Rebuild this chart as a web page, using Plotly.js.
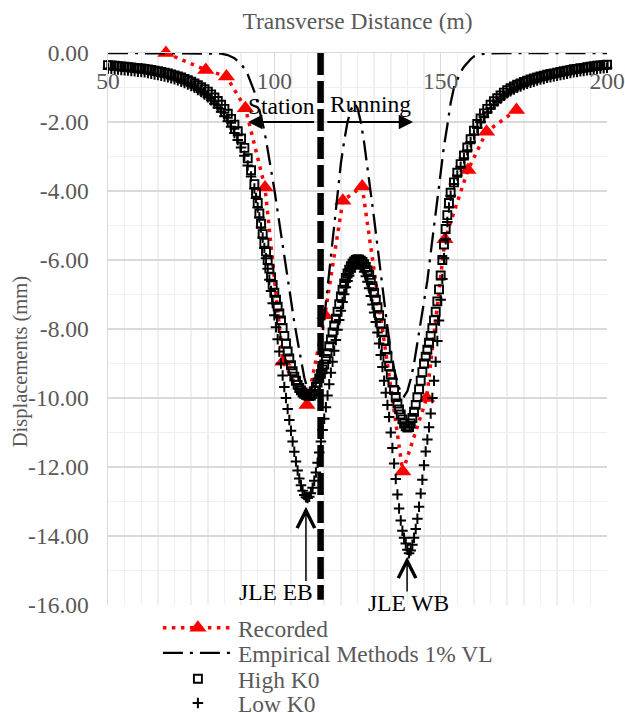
<!DOCTYPE html>
<html>
<head>
<meta charset="utf-8">
<script src="https://cdn.plot.ly/plotly-3.0.1.min.js"></script>
<style>
html,body{margin:0;padding:0;background:#fff;}
#chart{width:625px;height:713px;}
#chart svg text{font-family:'Liberation Serif' !important;}
</style>
</head>
<body>
<div id="chart"></div>
<script>
// ---------- DATA ----------
const xRecorded = [67.4, 79.4, 85.6, 91.3, 97.2, 102.6, 109.8, 115.2, 120.6, 126.4, 138.6, 145.8, 151.3, 158.2, 163.8, 172.8];
const yRecorded = [0.0, -0.49, -0.68, -1.6, -3.9, -8.95, -10.2, -7.6, -4.28, -3.87, -12.13, -10.0, -5.4, -3.39, -2.28, -1.65];

const xEmpirical = [50, 60, 70, 80, 84, 86, 88,
  90, 91, 92, 93, 94, 95, 96, 97, 98, 99,
  100, 101, 102, 103, 104, 105, 106, 107, 108, 109,
  110, 111, 112, 113, 114, 115, 116, 117, 118, 119,
  120, 121, 122, 123, 124, 125, 126, 127, 128, 129,
  130, 131, 132, 133, 134, 135, 136, 137, 138, 139,
  140, 141, 142, 143, 144, 145, 146, 147, 148, 149,
  150, 151, 152, 153, 154, 155, 156, 157, 158, 159,
  160, 162, 164, 166, 170, 180, 190, 200];
const yEmpirical = [0, 0, 0, 0, -0.02, -0.06, -0.15,
  -0.32, -0.45, -0.62, -0.85, -1.12, -1.45, -1.82, -2.25, -2.8, -3.35,
  -3.95, -4.6, -5.25, -5.9, -6.55, -7.2, -7.8, -8.35, -8.9, -9.4,
  -9.75, -9.95, -9.8, -9.35, -8.6, -7.7, -6.75, -5.8, -4.85, -4.0,
  -3.2, -2.55, -2.0, -1.65, -1.45, -1.6, -2.0, -2.6, -3.3, -4.0,
  -4.8, -5.6, -6.4, -7.2, -7.95, -8.6, -9.15, -9.55, -9.85, -9.95,
  -9.8, -9.45, -9.0, -8.4, -7.8, -7.2, -6.6, -5.8, -5.0, -4.15,
  -3.35, -2.7, -2.1, -1.45, -1.0, -0.75, -0.55, -0.4, -0.28, -0.18,
  -0.1, -0.04, -0.01, 0, 0, 0, 0, 0];

const xModel = [
  50, 51, 52, 53, 54, 55, 56, 57, 58, 59,
  60, 61, 62, 63, 64, 65, 66, 67, 68, 69,
  70, 71, 72, 73, 74, 75, 76, 77, 78, 79,
  80, 81, 82, 83, 84, 85, 86, 87, 88, 89,
  90, 91, 92, 93, 94,
  94.5, 95, 95.5, 96, 96.5, 97, 97.5, 98, 98.5, 99,
  99.5, 100, 100.5, 101, 101.5, 102, 102.5, 103, 103.5, 104,
  104.5, 105, 105.5, 106, 106.5, 107, 107.5, 108, 108.5, 109,
  109.5, 110, 110.5, 111, 111.5, 112, 112.5, 113, 113.5, 114,
  114.5, 115, 115.5, 116, 116.5, 117, 117.5, 118, 118.5, 119,
  119.5, 120, 120.5, 121, 121.5, 122, 122.5, 123, 123.5, 124,
  124.5, 125, 125.5, 126, 126.5, 127, 127.5, 128, 128.5, 129,
  129.5, 130, 130.5, 131, 131.5, 132, 132.5, 133, 133.5, 134,
  134.5, 135, 135.5, 136, 136.5, 137, 137.5, 138, 138.5, 139,
  139.5, 140, 140.5, 141, 141.5, 142, 142.5, 143, 143.5, 144,
  144.5, 145, 145.5, 146, 146.5, 147, 147.5, 148, 148.5, 149,
  149.5, 150, 150.5, 151, 151.5, 152, 152.5, 153,
  154, 155, 156, 157, 158, 159, 160, 161, 162, 163,
  164, 165, 166, 167, 168, 169, 170, 171, 172, 173,
  174, 175, 176, 177, 178, 179, 180, 181, 182, 183,
  184, 185, 186, 187, 188, 189, 190, 191, 192, 193,
  194, 195, 196, 197, 198, 199, 200];

const yHighK0 = [
  -0.35, -0.36, -0.37, -0.38, -0.39, -0.40, -0.41, -0.42, -0.43, -0.44,
  -0.45, -0.46, -0.48, -0.49, -0.51, -0.53, -0.55, -0.57, -0.59, -0.62,
  -0.65, -0.68, -0.71, -0.75, -0.79, -0.83, -0.88, -0.93, -0.99, -1.05,
  -1.12, -1.20, -1.29, -1.39, -1.50, -1.62, -1.76, -1.91, -2.08, -2.27,
  -2.48, -2.75, -3.05, -3.40, -3.80,
  -4.05, -4.35, -4.65, -4.95, -5.25, -5.5, -5.75, -6.0, -6.25, -6.5,
  -6.72, -6.95, -7.15, -7.35, -7.55, -7.75, -7.97, -8.2, -8.42, -8.65,
  -8.85, -9.05, -9.22, -9.38, -9.5, -9.62, -9.71, -9.78, -9.84, -9.88,
  -9.91, -9.93, -9.94, -9.93, -9.88, -9.8, -9.68, -9.55, -9.43, -9.3,
  -9.17, -9.03, -8.87, -8.7, -8.5, -8.3, -8.1, -7.9, -7.7, -7.5,
  -7.28, -7.06, -6.86, -6.68, -6.52, -6.39, -6.28, -6.18, -6.1, -6.04,
  -6.0, -5.98, -5.99, -6.02, -6.06, -6.12, -6.2, -6.3, -6.43, -6.58,
  -6.76, -6.95, -7.15, -7.37, -7.6, -7.84, -8.08, -8.33, -8.58, -8.83,
  -9.08, -9.32, -9.55, -9.77, -9.97, -10.16, -10.33, -10.48, -10.62, -10.74,
  -10.82, -10.86, -10.84, -10.74, -10.58, -10.4, -10.2, -9.98, -9.75, -9.5,
  -9.25, -9.0, -8.8, -8.6, -8.4, -8.2, -7.98, -7.75, -7.5, -7.2,
  -6.85, -6.45, -6.0, -5.55, -5.1, -4.7, -4.35, -4.05,
  -3.75, -3.47, -3.22, -2.97, -2.74, -2.5, -2.25, -2.06, -1.9, -1.75,
  -1.62, -1.5, -1.4, -1.31, -1.23, -1.15, -1.08, -1.02, -0.97, -0.92,
  -0.88, -0.84, -0.8, -0.77, -0.74, -0.71, -0.68, -0.66, -0.63, -0.61,
  -0.59, -0.57, -0.55, -0.53, -0.51, -0.49, -0.47, -0.46, -0.44, -0.43,
  -0.41, -0.4, -0.38, -0.37, -0.36, -0.35, -0.34];

const yLowK0 = [
  -0.45, -0.46, -0.47, -0.48, -0.49, -0.50, -0.51, -0.52, -0.53, -0.54,
  -0.55, -0.56, -0.58, -0.60, -0.62, -0.64, -0.66, -0.68, -0.70, -0.73,
  -0.76, -0.79, -0.83, -0.87, -0.91, -0.96, -1.01, -1.07, -1.13, -1.20,
  -1.28, -1.37, -1.47, -1.58, -1.70, -1.83, -1.98, -2.14, -2.32, -2.52,
  -2.74, -2.98, -3.26, -3.58, -3.93,
  -4.2, -4.48, -4.77, -5.06, -5.35, -5.65, -5.95, -6.25, -6.57, -6.9,
  -7.25, -7.6, -7.95, -8.3, -8.65, -9.0, -9.35, -9.68, -10.0, -10.32,
  -10.64, -10.95, -11.26, -11.56, -11.84, -12.1, -12.33, -12.53, -12.69, -12.81,
  -12.88, -12.9, -12.86, -12.76, -12.6, -12.4, -12.16, -11.88, -11.58, -11.26,
  -10.93, -10.6, -10.27, -9.93, -9.6, -9.27, -8.95, -8.63, -8.32, -8.02,
  -7.74, -7.47, -7.22, -6.99, -6.79, -6.61, -6.46, -6.34, -6.24, -6.17,
  -6.13, -6.12, -6.13, -6.17, -6.24, -6.34, -6.47, -6.63, -6.82, -7.04,
  -7.29, -7.52, -7.8, -8.1, -8.42, -8.75, -9.1, -9.5, -9.85, -10.2,
  -10.55, -11.0, -11.45, -11.9, -12.35, -12.8, -13.2, -13.55, -13.85, -14.05,
  -14.22, -14.4, -14.5, -14.42, -14.25, -14.05, -13.8, -13.5, -13.15, -12.77,
  -12.37, -11.95, -11.55, -11.2, -10.85, -10.45, -10.0, -9.5, -8.95, -8.35,
  -7.75, -7.15, -6.55, -5.95, -5.4, -4.9, -4.48, -4.14,
  -3.8, -3.55, -3.3, -3.05, -2.82, -2.58, -2.36, -2.17, -2.0, -1.85,
  -1.72, -1.6, -1.49, -1.4, -1.32, -1.24, -1.17, -1.11, -1.06, -1.01,
  -0.97, -0.93, -0.89, -0.86, -0.83, -0.8, -0.77, -0.75, -0.72, -0.7,
  -0.68, -0.66, -0.64, -0.62, -0.6, -0.58, -0.56, -0.55, -0.53, -0.52,
  -0.5, -0.49, -0.47, -0.46, -0.45, -0.44, -0.43];

const xTickVals = [50, 100, 150, 200];
const xTickText = ['50', '100', '150', '200'];
const yTickVals = [0, -2, -4, -6, -8, -10, -12, -14, -16];
const yTickText = ['0.00', '-2.00', '-4.00', '-6.00', '-8.00', '-10.00', '-12.00', '-14.00', '-16.00'];

const seriesNames = ['Recorded', 'Empirical Methods 1% VL', 'High K0', 'Low K0'];

// ---------- ANNOTATION POSITIONS (not data) ----------
const boundaryX = 113.9;
const arrowY = -2.0;

// ---------- CHART ----------
const FONT = 'Liberation Serif';
const GREY = '#595959';
const FS = 23.5;

const traces = [
  {
    x: xRecorded, y: yRecorded, name: seriesNames[0], type: 'scatter', mode: 'lines+markers',
    line: {color: '#ff0000', width: 3.5, dash: '3.5px,5.5px'},
    marker: {symbol: 'triangle-up', size: 15, color: '#ff0000'},
    cliponaxis: false, legend: 'legend'
  },
  {
    x: xEmpirical, y: yEmpirical, name: seriesNames[1], type: 'scatter', mode: 'lines',
    line: {color: '#000000', width: 2.3, dash: '20px,7px,3px,7px'},
    cliponaxis: false, legend: 'legend2'
  },
  {
    x: xModel, y: yHighK0, name: seriesNames[2], type: 'scatter', mode: 'markers',
    marker: {symbol: 'square-open', size: 8, color: '#000000', line: {width: 1.9, color: '#000000'}},
    cliponaxis: false, legend: 'legend3'
  },
  {
    x: xModel, y: yLowK0, name: seriesNames[3], type: 'scatter', mode: 'markers',
    marker: {symbol: 'cross-thin-open', size: 7.5, color: '#000000', line: {width: 2, color: '#000000'}},
    cliponaxis: false, legend: 'legend4'
  }
];

const legendBase = {
  x: 0.10, xanchor: 'left', yanchor: 'middle', bgcolor: 'rgba(0,0,0,0)', borderwidth: 0,
  font: {family: FONT, size: FS, color: GREY}, itemwidth: 70
};

const layout = {
  width: 625, height: 713,
  margin: {l: 108, r: 18, t: 53, b: 108, autoexpand: false},
  paper_bgcolor: '#ffffff', plot_bgcolor: '#ffffff',
  font: {family: FONT, size: FS, color: GREY},
  showlegend: true,
  legend: Object.assign({}, legendBase, {y: -0.0417}),
  legend2: Object.assign({}, legendBase, {y: -0.087}),
  legend3: Object.assign({}, legendBase, {y: -0.134}),
  legend4: Object.assign({}, legendBase, {y: -0.178}),
  xaxis: {
    range: [50, 200], side: 'top',
    tickmode: 'array', tickvals: xTickVals, ticktext: xTickText,
    ticklabelposition: 'inside', ticklabeloverflow: 'allow', ticklabelstandoff: 21,
    ticks: '', showline: true, linecolor: '#d9d9d9', linewidth: 1.5,
    showgrid: true, gridcolor: '#d9d9d9', gridwidth: 1.5,
    minor: {dtick: 5, tick0: 50, showgrid: true, gridcolor: '#efefef', gridwidth: 1.5},
    zeroline: false,
    tickfont: {family: FONT, size: FS, color: GREY},
    title: {text: 'Transverse Distance (m)', font: {family: FONT, size: FS, color: GREY}, standoff: 31}
  },
  yaxis: {
    range: [-16, 0],
    tickmode: 'array', tickvals: yTickVals, ticktext: yTickText,
    ticks: '', ticklabelstandoff: 13,
    showline: true, linecolor: '#d9d9d9', linewidth: 1.5,
    showgrid: true, gridcolor: '#d9d9d9', gridwidth: 1.5,
    minor: {dtick: 1, tick0: 0, showgrid: true, gridcolor: '#efefef', gridwidth: 1.5},
    zeroline: false,
    tickfont: {family: FONT, size: FS, color: GREY}
  },
  shapes: [
    {type: 'line', xref: 'x', yref: 'y', x0: boundaryX, x1: boundaryX, y0: 0, y1: -15.85,
     line: {color: '#000000', width: 6.5, dash: '22px,6px'}, layer: 'above'}
  ],
  annotations: [
    // y-axis title (placed as in the reference, slightly below the plot centre)
    {xref: 'paper', yref: 'paper', x: -0.176, y: 0.44, xanchor: 'center', yanchor: 'middle',
     text: 'Displacements (mm)', textangle: -90, showarrow: false,
     font: {family: FONT, size: 20.5, color: GREY}},
    {xref: 'x', yref: 'y', axref: 'x', ayref: 'y', x: 92.1, y: arrowY, ax: 112.4, ay: arrowY,
     text: '', showarrow: true, arrowhead: 2, arrowsize: 1.3, arrowwidth: 2.2, arrowcolor: '#000000', standoff: 0, startstandoff: 0},
    {xref: 'x', yref: 'y', axref: 'x', ayref: 'y', x: 141.7, y: arrowY, ax: 115.5, ay: arrowY,
     text: '', showarrow: true, arrowhead: 2, arrowsize: 1.3, arrowwidth: 2.2, arrowcolor: '#000000', standoff: 0, startstandoff: 0},
    {xref: 'x', yref: 'y', x: 102.1, y: -1.53, text: 'Station', showarrow: false,
     font: {family: FONT, size: FS, color: '#000000'}},
    {xref: 'x', yref: 'y', x: 129.0, y: -1.47, text: 'Running', showarrow: false,
     font: {family: FONT, size: FS, color: '#000000'}},
    {xref: 'x', yref: 'y', axref: 'x', ayref: 'y', x: 109.5, y: -13.15, ax: 109.5, ay: -15.35,
     text: '', showarrow: true, arrowhead: 5, arrowsize: 2.3, arrowwidth: 1.5, arrowcolor: '#000000', standoff: 0, startstandoff: 0},
    {xref: 'x', yref: 'y', x: 100.5, y: -15.62, text: 'JLE EB', showarrow: false,
     font: {family: FONT, size: FS, color: '#000000'}},
    {xref: 'x', yref: 'y', axref: 'x', ayref: 'y', x: 139.9, y: -14.6, ax: 139.9, ay: -15.65,
     text: '', showarrow: true, arrowhead: 5, arrowsize: 2.3, arrowwidth: 1.5, arrowcolor: '#000000', standoff: 0, startstandoff: 0},
    {xref: 'x', yref: 'y', x: 140.2, y: -15.95, text: 'JLE WB', showarrow: false,
     font: {family: FONT, size: FS, color: '#000000'}}
  ]
};

Plotly.newPlot('chart', traces, layout, {displayModeBar: false, staticPlot: true});
</script>
</body>
</html>
